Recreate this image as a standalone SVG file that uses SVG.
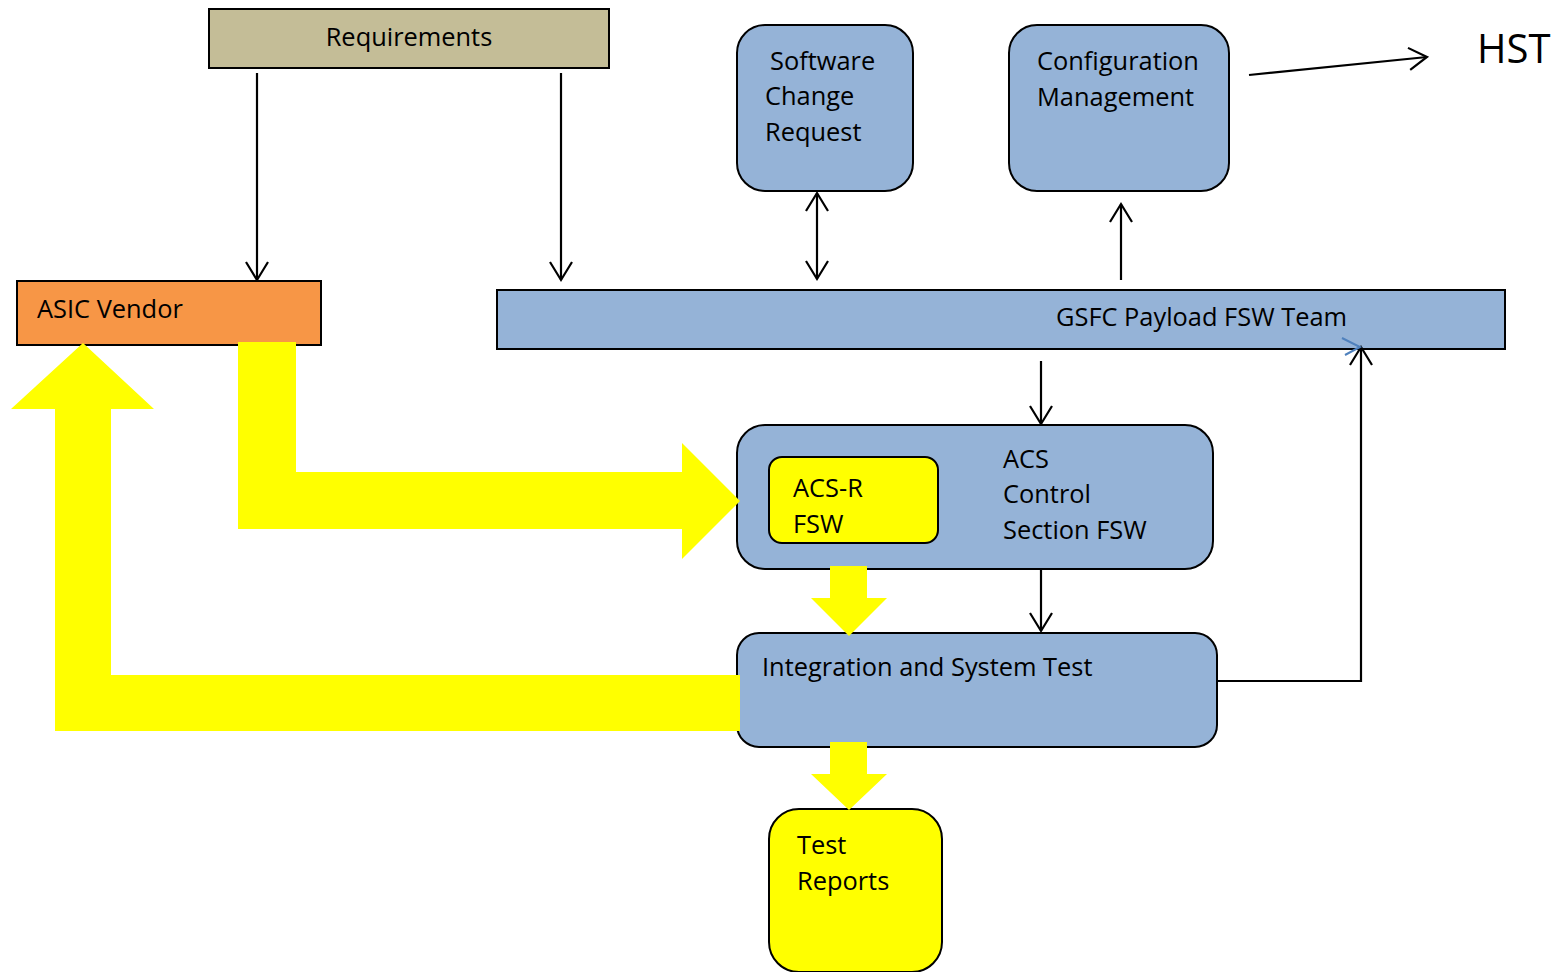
<svg xmlns="http://www.w3.org/2000/svg" width="1560" height="972" viewBox="0 0 1560 972">
<style>
text{font-family:"Open Sans","Liberation Sans",sans-serif;font-size:25.4px;fill:#000}
.box{stroke:#000;stroke-width:2}
.blue{fill:#95B3D7}
.yel{fill:#FFFF00}
.ln{stroke:#000;stroke-width:2.2;fill:none}
.blk{fill:#FFFF00;stroke:none}
</style>
<defs>
<marker id="ah" markerUnits="userSpaceOnUse" markerWidth="22" markerHeight="26" viewBox="0 0 22 26" refX="19" refY="13" orient="auto-start-reverse">
<path d="M1,2 L19,13 L1,24" fill="none" stroke="#000" stroke-width="2.2"/>
</marker>
</defs>
<rect width="1560" height="972" fill="#fff"/>

<g id="requirements">
<rect class="box" x="209" y="9" width="400" height="59" fill="#C4BD97"/>
<text x="409" y="46" text-anchor="middle">Requirements</text>
</g>
<g id="asic-vendor">
<rect class="box" x="17" y="281" width="304" height="64" fill="#F79646"/>
<text x="37" y="318">ASIC Vendor</text>
</g>
<g id="scr">
<rect class="box blue" x="737" y="25" width="176" height="166" rx="28"/>
<text x="770" y="70">Software</text>
<text x="765" y="105">Change</text>
<text x="765" y="141">Request</text>
</g>
<g id="cm">
<rect class="box blue" x="1009" y="25" width="220" height="166" rx="28"/>
<text x="1037" y="70">Configuration</text>
<text x="1037" y="106">Management</text>
</g>
<g id="hst">
<text x="1477" y="63" style="font-size:40px">HST</text>
</g>
<g id="gsfc">
<rect class="box blue" x="497" y="290" width="1008" height="59"/>
<text x="1056" y="326">GSFC Payload FSW Team</text>
</g>
<g id="acs">
<rect class="box blue" x="737" y="425" width="476" height="144" rx="28"/>
<text x="1003" y="468">ACS</text>
<text x="1003" y="503">Control</text>
<text x="1003" y="539">Section FSW</text>
</g>
<g id="acs-r">
<rect class="box yel" x="769" y="457" width="169" height="86" rx="13"/>
<text x="793" y="497">ACS-R</text>
<text x="793" y="533">FSW</text>
</g>
<g id="ist">
<rect class="box blue" x="737" y="633" width="480" height="114" rx="22"/>
<text x="762" y="676">Integration and System Test</text>
</g>
<g id="test-reports">
<rect class="box yel" x="769" y="809" width="173" height="163" rx="30"/>
<text x="797" y="854">Test</text>
<text x="797" y="890">Reports</text>
</g>

<g id="connectors">
<line class="ln" x1="257" y1="73" x2="257" y2="280" marker-end="url(#ah)"/>
<line class="ln" x1="561" y1="73" x2="561" y2="280" marker-end="url(#ah)"/>
<line class="ln" x1="817" y1="193" x2="817" y2="279" marker-start="url(#ah)" marker-end="url(#ah)"/>
<line class="ln" x1="1121" y1="280" x2="1121" y2="204" marker-end="url(#ah)"/>
<line class="ln" x1="1249" y1="75" x2="1427" y2="57" marker-end="url(#ah)"/>
<line class="ln" x1="1041" y1="361" x2="1041" y2="424" marker-end="url(#ah)"/>
<line class="ln" x1="1041" y1="569" x2="1041" y2="631" marker-end="url(#ah)"/>
<polyline class="ln" points="1217,681 1361,681 1361,347" marker-end="url(#ah)"/>
<path d="M1342,338 L1360,347 L1345,355" fill="none" stroke="#4F81BD" stroke-width="2"/>
<polygon class="blk" points="83,343 154,409 111,409 111,675 740,675 740,731 55,731 55,409 11,409"/>
<polygon class="blk" points="238,342 296,342 296,472 682,472 682,443 740,501 682,559 682,529 238,529"/>
<polygon class="blk" points="830,566 867,566 867,598 887,598 849,636 811,598 830,598"/>
<polygon class="blk" points="830,742 867,742 867,774 887,774 849,810 811,774 830,774"/>
</g>
</svg>
